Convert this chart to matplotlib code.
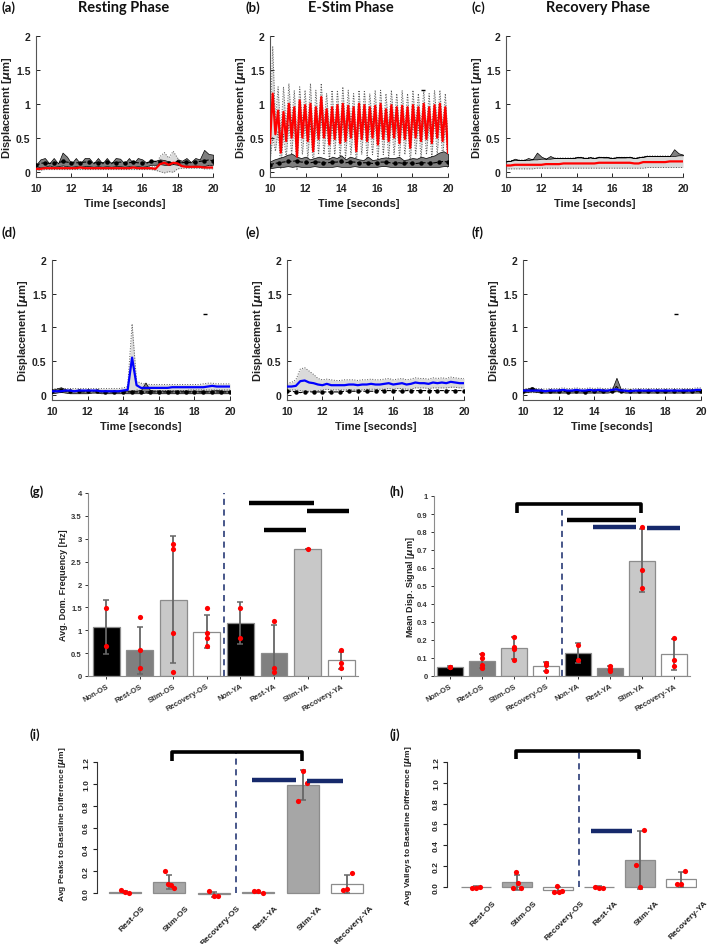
import matplotlib.pyplot as plt
import matplotlib.transforms as mtransforms
import numpy as np

W, H = 709, 945

# ---------------- time series data (sampled every 0.25 s, 10-20 s) ----------------
a_red = [0.04, 0.04, 0.05, 0.05, 0.05, 0.05, 0.05, 0.05, 0.05, 0.05, 0.06, 0.05, 0.05, 0.05, 0.05, 0.05,
         0.05, 0.05, 0.05, 0.05, 0.05, 0.05, 0.06, 0.05, 0.05, 0.05, 0.05, 0.04, 0.11, 0.13, 0.10, 0.13,
         0.12, 0.08, 0.07, 0.07, 0.07, 0.07, 0.06, 0.06, 0.06]
a_red_up = [0.07, 0.07, 0.07, 0.07, 0.07, 0.07, 0.07, 0.07, 0.07, 0.07, 0.08, 0.07, 0.07, 0.07, 0.07, 0.07,
            0.07, 0.07, 0.07, 0.07, 0.07, 0.07, 0.08, 0.07, 0.07, 0.07, 0.07, 0.07, 0.22, 0.28, 0.20, 0.30,
            0.20, 0.12, 0.10, 0.10, 0.10, 0.10, 0.09, 0.09, 0.09]
a_red_lo = [0.02, 0.02, 0.03, 0.03, 0.03, 0.03, 0.03, 0.03, 0.03, 0.03, 0.03, 0.03, 0.03, 0.03, 0.03, 0.03,
            0.03, 0.03, 0.03, 0.03, 0.03, 0.03, 0.03, 0.03, 0.03, 0.03, 0.03, 0.02, 0.00, -0.02, 0.00, -0.01,
            0.04, 0.05, 0.05, 0.05, 0.05, 0.05, 0.04, 0.04, 0.04]
a_blk = [0.09, 0.12, 0.13, 0.12, 0.13, 0.13, 0.15, 0.14, 0.13, 0.13, 0.13, 0.14, 0.14, 0.13, 0.13, 0.13,
         0.14, 0.13, 0.13, 0.14, 0.13, 0.13, 0.14, 0.13, 0.13, 0.13, 0.15, 0.15, 0.14, 0.12, 0.13, 0.13,
         0.14, 0.13, 0.14, 0.13, 0.14, 0.15, 0.16, 0.17, 0.16]
a_blk_up = [0.10, 0.18, 0.20, 0.12, 0.20, 0.12, 0.28, 0.22, 0.12, 0.20, 0.12, 0.20, 0.20, 0.12, 0.20, 0.12,
            0.20, 0.12, 0.20, 0.19, 0.12, 0.20, 0.12, 0.20, 0.18, 0.13, 0.16, 0.16, 0.18, 0.17, 0.15, 0.12,
            0.18, 0.16, 0.20, 0.14, 0.20, 0.18, 0.32, 0.26, 0.25]
a_blk_lo = [0.08, 0.06, 0.07, 0.09, 0.07, 0.08, 0.09, 0.08, 0.07, 0.08, 0.07, 0.08, 0.08, 0.07, 0.08, 0.07,
            0.08, 0.07, 0.08, 0.08, 0.07, 0.08, 0.07, 0.08, 0.07, 0.08, 0.10, 0.10, 0.11, 0.10, 0.10, 0.11,
            0.10, 0.08, 0.09, 0.08, 0.09, 0.08, 0.08, 0.10, 0.10]

# E-stim red trace: alternating troughs / peaks
b_red = [0.42, 1.15, 0.55, 0.90, 0.28, 0.88, 0.45, 1.00, 0.50, 0.95,
         0.22, 1.05, 0.50, 0.98, 0.45, 1.00, 0.30, 0.95, 0.48, 1.10,
         0.50, 0.92, 0.40, 0.95, 0.48, 0.98, 0.42, 1.00, 0.45, 0.97,
         0.50, 0.95, 0.30, 1.00, 0.48, 0.98, 0.45, 0.95, 0.50, 0.97,
         0.40, 1.00, 0.48, 0.92, 0.45, 0.98, 0.50, 0.95, 0.42, 0.97,
         0.48, 0.95, 0.35, 0.98, 0.50, 0.95, 0.45, 1.00, 0.48, 0.95,
         0.42, 0.98, 0.50, 1.00, 0.45, 0.95, 0.28]
b_red_up = [0.6, 1.85, 0.75, 1.25, 0.55, 1.25, 0.65, 1.3, 0.7, 1.2,
            0.5, 1.25, 0.7, 1.2, 0.65, 1.3, 0.5, 1.2, 0.65, 1.3,
            0.7, 1.15, 0.6, 1.2, 0.65, 1.2, 0.6, 1.25, 0.65, 1.2,
            0.7, 1.15, 0.5, 1.2, 0.65, 1.2, 0.65, 1.15, 0.7, 1.2,
            0.6, 1.2, 0.65, 1.15, 0.65, 1.2, 0.7, 1.15, 0.6, 1.2,
            0.65, 1.15, 0.55, 1.2, 0.7, 1.15, 0.65, 1.2, 0.65, 1.15,
            0.6, 1.2, 0.7, 1.2, 0.65, 1.15, 0.5]
b_red_lo = [0.15, 0.5, 0.3, 0.6, 0.05, 0.55, 0.2, 0.7, 0.25, 0.7,
            0.02, 0.75, 0.25, 0.7, 0.2, 0.7, 0.08, 0.7, 0.25, 0.8,
            0.25, 0.7, 0.15, 0.7, 0.25, 0.75, 0.2, 0.75, 0.2, 0.7,
            0.25, 0.7, 0.1, 0.75, 0.25, 0.75, 0.2, 0.7, 0.25, 0.75,
            0.15, 0.75, 0.25, 0.7, 0.2, 0.75, 0.25, 0.7, 0.2, 0.75,
            0.25, 0.7, 0.12, 0.75, 0.25, 0.7, 0.2, 0.75, 0.25, 0.7,
            0.2, 0.75, 0.25, 0.75, 0.2, 0.7, 0.05]
b_blk = [0.10, 0.12, 0.13, 0.14, 0.15, 0.15, 0.16, 0.14, 0.14, 0.13, 0.14, 0.14, 0.13, 0.13, 0.14, 0.14,
         0.15, 0.13, 0.14, 0.14, 0.13, 0.13, 0.13, 0.12, 0.13, 0.14, 0.14, 0.13, 0.12, 0.13, 0.12, 0.13,
         0.12, 0.12, 0.13, 0.13, 0.12, 0.13, 0.14, 0.15, 0.14]
b_blk_up = [0.15, 0.18, 0.20, 0.22, 0.25, 0.26, 0.22, 0.20, 0.22, 0.18, 0.20, 0.22, 0.20, 0.18, 0.22, 0.20,
            0.24, 0.18, 0.22, 0.20, 0.18, 0.17, 0.22, 0.17, 0.18, 0.20, 0.21, 0.20, 0.20, 0.22, 0.17, 0.18,
            0.20, 0.19, 0.22, 0.20, 0.22, 0.24, 0.28, 0.30, 0.26]
b_blk_lo = [0.05, 0.06, 0.07, 0.07, 0.08, 0.07, 0.08, 0.07, 0.07, 0.07, 0.08, 0.07, 0.07, 0.07, 0.07, 0.08,
            0.07, 0.07, 0.07, 0.08, 0.07, 0.07, 0.07, 0.07, 0.07, 0.08, 0.08, 0.07, 0.07, 0.07, 0.07, 0.07,
            0.07, 0.07, 0.07, 0.07, 0.07, 0.07, 0.07, 0.08, 0.08]

c_red = [0.09, 0.09, 0.10, 0.10, 0.10, 0.10, 0.10, 0.10, 0.10, 0.11, 0.11, 0.11, 0.11, 0.12, 0.12, 0.12,
         0.12, 0.12, 0.12, 0.12, 0.12, 0.13, 0.13, 0.13, 0.13, 0.13, 0.13, 0.13, 0.13, 0.12, 0.12, 0.14,
         0.14, 0.14, 0.14, 0.14, 0.14, 0.15, 0.15, 0.15, 0.15]
c_red_up = [0.15, 0.16, 0.17, 0.17, 0.17, 0.17, 0.18, 0.18, 0.19, 0.19, 0.19, 0.20, 0.20, 0.20, 0.20, 0.20,
            0.21, 0.21, 0.20, 0.21, 0.20, 0.21, 0.21, 0.21, 0.20, 0.21, 0.21, 0.21, 0.21, 0.20, 0.21, 0.22,
            0.23, 0.23, 0.23, 0.23, 0.23, 0.23, 0.23, 0.24, 0.24]
c_red_lo = [0.04, 0.04, 0.04, 0.04, 0.04, 0.04, 0.04, 0.05, 0.05, 0.05, 0.05, 0.05, 0.05, 0.05, 0.05, 0.05,
            0.05, 0.05, 0.05, 0.05, 0.05, 0.05, 0.05, 0.05, 0.05, 0.05, 0.05, 0.05, 0.05, 0.05, 0.05, 0.05,
            0.06, 0.06, 0.06, 0.06, 0.06, 0.06, 0.06, 0.06, 0.06]
c_blk_up = [0.15, 0.16, 0.19, 0.17, 0.17, 0.20, 0.18, 0.28, 0.22, 0.19, 0.23, 0.20, 0.20, 0.20, 0.20, 0.20,
            0.21, 0.21, 0.20, 0.21, 0.20, 0.22, 0.21, 0.21, 0.20, 0.21, 0.21, 0.21, 0.22, 0.20, 0.21, 0.22,
            0.23, 0.23, 0.23, 0.23, 0.23, 0.23, 0.33, 0.27, 0.25]

d_blue = [0.05, 0.05, 0.05, 0.06, 0.06, 0.05, 0.06, 0.06, 0.06, 0.06, 0.06, 0.05, 0.05, 0.05, 0.05, 0.05,
          0.06, 0.07, 0.55, 0.14, 0.10, 0.10, 0.10, 0.10, 0.10, 0.10, 0.10, 0.11, 0.11, 0.11, 0.11, 0.11,
          0.11, 0.11, 0.11, 0.12, 0.13, 0.12, 0.12, 0.12, 0.12]
d_blue_up = [0.08, 0.09, 0.09, 0.09, 0.09, 0.09, 0.09, 0.09, 0.09, 0.09, 0.09, 0.09, 0.09, 0.09, 0.09, 0.09,
             0.10, 0.12, 1.05, 0.20, 0.17, 0.16, 0.15, 0.15, 0.15, 0.15, 0.15, 0.15, 0.15, 0.15, 0.15, 0.15,
             0.15, 0.15, 0.16, 0.17, 0.17, 0.16, 0.16, 0.16, 0.16]
d_blue_lo = [0.03, 0.03, 0.03, 0.03, 0.03, 0.03, 0.03, 0.03, 0.03, 0.03, 0.03, 0.03, 0.03, 0.03, 0.03, 0.03,
             0.03, 0.03, 0.05, 0.07, 0.06, 0.06, 0.06, 0.06, 0.06, 0.06, 0.06, 0.06, 0.06, 0.06, 0.06, 0.07,
             0.07, 0.07, 0.07, 0.07, 0.07, 0.07, 0.07, 0.07, 0.07]
d_blk = [0.05, 0.06, 0.07, 0.05, 0.05, 0.05, 0.05, 0.04, 0.05, 0.05, 0.06, 0.04, 0.04, 0.04, 0.04, 0.04,
         0.04, 0.04, 0.04, 0.04, 0.04, 0.04, 0.04, 0.04, 0.04, 0.04, 0.04, 0.04, 0.04, 0.04, 0.04, 0.04,
         0.04, 0.04, 0.04, 0.04, 0.04, 0.04, 0.04, 0.04, 0.04]
d_blk_up = [0.07, 0.09, 0.11, 0.08, 0.06, 0.06, 0.06, 0.06, 0.07, 0.07, 0.07, 0.06, 0.06, 0.06, 0.06, 0.06,
            0.06, 0.06, 0.06, 0.06, 0.07, 0.18, 0.07, 0.06, 0.06, 0.06, 0.06, 0.06, 0.06, 0.06, 0.06, 0.06,
            0.06, 0.06, 0.06, 0.06, 0.06, 0.07, 0.06, 0.06, 0.06]
d_blk_lo = [0.02, 0.03, 0.04, 0.03, 0.02, 0.02, 0.02, 0.02, 0.02, 0.03, 0.03, 0.02, 0.02, 0.02, 0.02, 0.02,
            0.02, 0.02, 0.02, 0.02, 0.02, 0.03, 0.02, 0.02, 0.02, 0.02, 0.02, 0.02, 0.02, 0.02, 0.02, 0.02,
            0.02, 0.02, 0.02, 0.02, 0.02, 0.02, 0.02, 0.02, 0.02]

e_blue = [0.12, 0.12, 0.13, 0.20, 0.21, 0.18, 0.17, 0.15, 0.14, 0.16, 0.14, 0.14, 0.14, 0.14, 0.15, 0.15,
          0.14, 0.15, 0.15, 0.16, 0.15, 0.15, 0.16, 0.17, 0.15, 0.16, 0.17, 0.15, 0.16, 0.18, 0.17, 0.17,
          0.16, 0.18, 0.17, 0.18, 0.17, 0.19, 0.18, 0.17, 0.17]
e_blue_up = [0.17, 0.18, 0.22, 0.38, 0.40, 0.35, 0.30, 0.24, 0.22, 0.23, 0.22, 0.21, 0.21, 0.22, 0.22, 0.22,
             0.21, 0.22, 0.22, 0.23, 0.22, 0.22, 0.23, 0.24, 0.22, 0.23, 0.24, 0.22, 0.23, 0.25, 0.24, 0.24,
             0.23, 0.25, 0.24, 0.25, 0.24, 0.26, 0.25, 0.24, 0.24]
e_blue_lo = [0.07, 0.07, 0.07, 0.06, 0.05, 0.05, 0.05, 0.06, 0.07, 0.08, 0.07, 0.07, 0.07, 0.07, 0.07, 0.07,
             0.07, 0.07, 0.08, 0.08, 0.08, 0.08, 0.08, 0.09, 0.08, 0.09, 0.09, 0.08, 0.08, 0.10, 0.10, 0.10,
             0.09, 0.10, 0.10, 0.10, 0.10, 0.11, 0.11, 0.10, 0.10]
e_blk = [0.05, 0.05, 0.04, 0.03, 0.04, 0.04, 0.04, 0.04, 0.04, 0.04, 0.04, 0.04, 0.04, 0.05, 0.05, 0.05,
         0.05, 0.05, 0.05, 0.05, 0.05, 0.06, 0.06, 0.06, 0.06, 0.06, 0.05, 0.06, 0.06, 0.06, 0.06, 0.06,
         0.06, 0.06, 0.06, 0.06, 0.06, 0.06, 0.06, 0.06, 0.06]

f_blue = [0.06, 0.06, 0.06, 0.06, 0.06, 0.05, 0.06, 0.06, 0.06, 0.07, 0.06, 0.06, 0.07, 0.06, 0.06, 0.07,
          0.06, 0.07, 0.06, 0.06, 0.07, 0.08, 0.06, 0.06, 0.05, 0.06, 0.06, 0.06, 0.06, 0.06, 0.06, 0.06,
          0.06, 0.06, 0.06, 0.06, 0.06, 0.06, 0.06, 0.07, 0.07]
f_blue_up = [0.09, 0.09, 0.10, 0.09, 0.09, 0.08, 0.09, 0.09, 0.09, 0.10, 0.09, 0.09, 0.10, 0.09, 0.09, 0.10,
             0.09, 0.10, 0.09, 0.09, 0.10, 0.11, 0.09, 0.09, 0.08, 0.09, 0.09, 0.09, 0.09, 0.09, 0.09, 0.09,
             0.09, 0.09, 0.09, 0.09, 0.09, 0.09, 0.09, 0.10, 0.10]
f_blue_lo = [0.03, 0.03, 0.03, 0.03, 0.03, 0.03, 0.03, 0.03, 0.03, 0.04, 0.03, 0.03, 0.04, 0.03, 0.03, 0.04,
             0.03, 0.04, 0.03, 0.03, 0.04, 0.04, 0.03, 0.03, 0.03, 0.03, 0.03, 0.03, 0.03, 0.03, 0.03, 0.03,
             0.03, 0.03, 0.03, 0.03, 0.03, 0.03, 0.03, 0.04, 0.04]
f_blk = [0.05, 0.06, 0.08, 0.06, 0.05, 0.05, 0.05, 0.04, 0.05, 0.05, 0.04, 0.05, 0.05, 0.05, 0.04, 0.05,
         0.05, 0.05, 0.05, 0.05, 0.06, 0.12, 0.06, 0.05, 0.05, 0.05, 0.05, 0.05, 0.05, 0.05, 0.05, 0.05,
         0.05, 0.05, 0.05, 0.05, 0.05, 0.05, 0.05, 0.05, 0.05]
f_blk_up = [0.07, 0.09, 0.11, 0.08, 0.07, 0.07, 0.07, 0.06, 0.07, 0.07, 0.06, 0.07, 0.07, 0.07, 0.06, 0.07,
            0.07, 0.07, 0.07, 0.07, 0.08, 0.25, 0.08, 0.07, 0.07, 0.07, 0.07, 0.07, 0.07, 0.07, 0.07, 0.07,
            0.07, 0.07, 0.07, 0.07, 0.07, 0.08, 0.07, 0.07, 0.07]
f_blk_lo = [0.03, 0.04, 0.05, 0.04, 0.03, 0.03, 0.03, 0.03, 0.03, 0.03, 0.03, 0.03, 0.03, 0.03, 0.03, 0.03,
            0.03, 0.03, 0.03, 0.03, 0.04, 0.06, 0.04, 0.03, 0.03, 0.03, 0.03, 0.03, 0.03, 0.03, 0.03, 0.03,
            0.03, 0.03, 0.03, 0.03, 0.03, 0.03, 0.03, 0.03, 0.03]

# ---------------- bar chart data ----------------
labels8 = ['Non-OS', 'Rest-OS', 'Stim-OS', 'Recovery-OS', 'Non-YA', 'Rest-YA', 'Stim-YA', 'Recovery-YA']
labels6 = ['Rest-OS', 'Stim-OS', 'Recovery-OS', 'Rest-YA', 'Stim-YA', 'Recovery-YA']

g_mean = [1.07, 0.56, 1.67, 0.97, 1.16, 0.50, 2.78, 0.34]
g_sd = [0.59, 0.52, 1.38, 0.36, 0.46, 0.61, 0.0, 0.18]
g_pts = [[1.49, 0.65], [1.30, 0.56, 0.18], [2.88, 2.78, 0.93, 0.09], [1.49, 0.93, 0.84, 0.65],
         [1.49, 0.84], [1.21, 0.18, 0.09], [2.78], [0.56, 0.28, 0.18]]

h_mean = [0.050, 0.083, 0.155, 0.055, 0.128, 0.045, 0.640, 0.120]
h_sd = [0.004, 0.037, 0.060, 0.025, 0.058, 0.012, 0.175, 0.087]
h_pts = [[0.05, 0.048], [0.12, 0.10, 0.06, 0.045], [0.215, 0.16, 0.15, 0.09], [0.075, 0.06, 0.03],
         [0.17, 0.09], [0.055, 0.04, 0.03], [0.83, 0.59, 0.49], [0.21, 0.09, 0.055]]

i_mean = [0.010, 0.102, -0.012, 0.010, 0.990, 0.083]
i_sd = [0.010, 0.068, 0.020, 0.008, 0.140, 0.085]
i_pts = [[0.03, 0.01, 0.005], [0.20, 0.08, 0.075, 0.045], [0.015, -0.03, -0.03],
         [0.02, 0.015, 0.005], [0.84, 1.12, 1.01], [0.03, 0.035, 0.18]]

j_mean = [0.000, 0.045, -0.030, 0.000, 0.260, 0.072]
j_sd = [0.003, 0.072, 0.030, 0.003, 0.280, 0.072]
j_pts = [[-0.01, -0.01, 0.0], [-0.01, 0.14, 0.04, -0.01], [-0.05, 0.01, -0.05, -0.04],
         [0.0, -0.01, -0.01], [0.21, 0.0, 0.55], [0.03, 0.03, 0.155]]

# significance marks (start, end, height)
g_sig = [(5.26, 7.19, 3.78), (6.98, 8.23, 3.60), (5.70, 6.95, 3.20)]
h_bracket = (3.09, 6.97, 0.955, 0.905)
h_sig_black = [(4.66, 6.81, 0.865)]
h_sig_blue = [(5.47, 6.81, 0.83), (7.16, 8.19, 0.82)]
i_bracket = (2.06, 4.99, 1.29, 1.21)
i_sig_blue = [(3.86, 4.85, 1.035), (5.10, 5.91, 1.025)]
j_bracket = (1.98, 4.98, 1.31, 1.23)
j_sig_blue = [(3.80, 4.80, 0.54)]

plt.rcParams['font.family'] = ['Liberation Sans', 'DejaVu Sans']
plt.rcParams['font.weight'] = 'bold'

NAVY = '#16296b'
fig = plt.figure(figsize=(W / 100, H / 100), dpi=100)


def px_axes(l, t, r, b):
    return fig.add_axes([l / W, 1 - b / H, (r - l) / W, (b - t) / H])


def ftxt(x, y, s, **kw):
    fig.text(x / W, 1 - y / H, s, **kw)


def ts_panel(ax, line, up, lo, color, blk=None, blk_up=None, blk_lo=None, bump=True):
    t = np.linspace(10, 20, len(line))
    ax.fill_between(t, lo, up, color='#dadada', lw=0, zorder=1)
    ax.plot(t, up, ls=':', color='#555555', lw=0.7, zorder=2)
    ax.plot(t, lo, ls=':', color='#555555', lw=0.7, zorder=2)
    if blk_up is not None:
        tb = np.linspace(10, 20, len(blk_up))
        ax.fill_between(tb, blk_lo, blk_up, color='#7f7f7f', edgecolor='black', lw=0.5, zorder=3)
    if blk is not None:
        tb = np.linspace(10, 20, len(blk))
        ax.plot(tb, blk, ls='--', color='black', lw=0.8, marker='o', ms=2.2, markevery=2, zorder=4)
    ax.plot(t, line, color=color, lw=1.6, zorder=5)
    if bump:
        ax.plot([18.6], [1.2], marker='_', color='black', ms=3, mew=1)
    ax.set_xlim(10, 20)
    ax.set_ylim(-0.08, 2)
    ax.set_xticks([10, 12, 14, 16, 18, 20])
    ax.set_yticks([0, 0.5, 1, 1.5, 2])
    ax.set_yticklabels(['0', '0.5', '1', '1.5', '2'])
    for s in ['top', 'right']:
        ax.spines[s].set_visible(False)
    for s in ['left', 'bottom']:
        ax.spines[s].set_color('#555555')
        ax.spines[s].set_linewidth(0.8)
    ax.tick_params(direction='in', length=3, width=0.7, labelsize=7.5, colors='#222222', pad=4)
    ax.set_ylabel(r'Displacement [$\mu$m]', fontsize=8, fontweight='bold', color='#222222')
    ax.yaxis.set_label_coords(-0.125, 0.5)
    ax.set_xlabel('Time [seconds]', fontsize=8, fontweight='bold', color='#222222')
    ax.xaxis.set_label_coords(0.5, -0.15)


# ---- top row (OS, red) ----
ax_a = px_axes(36, 37, 213, 178)
ts_panel(ax_a, a_red, a_red_up, a_red_lo, '#ff0000', a_blk, a_blk_up, a_blk_lo, bump=False)
ax_b = px_axes(270, 37, 448, 178)
ts_panel(ax_b, b_red, b_red_up, b_red_lo, '#ff0000', b_blk, b_blk_up, b_blk_lo)
ax_c = px_axes(506, 37, 683, 178)
ts_panel(ax_c, c_red, c_red_up, c_red_lo, '#ff0000', None, c_blk_up, c_red_up, bump=False)

# ---- middle row (YA, blue) ----
ax_d = px_axes(52, 261, 230, 401)
ts_panel(ax_d, d_blue, d_blue_up, d_blue_lo, '#0000ff', d_blk, d_blk_up, d_blk_lo)
ax_e = px_axes(287, 261, 464, 401)
ts_panel(ax_e, e_blue, e_blue_up, e_blue_lo, '#0000ff', e_blk, bump=False)
ax_f = px_axes(523, 261, 701, 401)
ts_panel(ax_f, f_blue, f_blue_up, f_blue_lo, '#0000ff', f_blk, f_blk_up, f_blk_lo)

title_kw = dict(family='Lato', fontweight='bold', fontsize=10.5, ha='center', va='center', color='#111111')
ftxt(124, 8, 'Resting Phase', **title_kw)
ftxt(351, 8, 'E-Stim Phase', **title_kw)
ftxt(598, 8, 'Recovery Phase', **title_kw)
lab_kw = dict(family='Lato', fontweight='bold', fontsize=9.5, ha='left', va='center', color='#111111')
ftxt(1, 8, '(a)', **lab_kw)
ftxt(246, 8, '(b)', **lab_kw)
ftxt(471, 8, '(c)', **lab_kw)
ftxt(1, 233, '(d)', **lab_kw)
ftxt(246, 233, '(e)', **lab_kw)
ftxt(471, 233, '(f)', **lab_kw)
ftxt(30, 492, '(g)', **lab_kw)
ftxt(390, 492, '(h)', **lab_kw)
ftxt(30, 735, '(i)', **lab_kw)
ftxt(390, 735, '(j)', **lab_kw)


def bar_panel(ax, labels, mean, sd, pts, colors, width, jitter):
    x = np.arange(1, len(mean) + 1)
    ax.bar(x, mean, width, color=colors, edgecolor='#8c8c8c', lw=0.9, zorder=2)
    ax.errorbar(x, mean, yerr=sd, fmt='none', ecolor='#666666', elinewidth=1.3,
                capsize=2.5, capthick=1.1, zorder=3)
    for xi, p in zip(x, pts):
        off = np.linspace(-jitter, jitter, len(p)) if len(p) > 1 else np.zeros(1)
        ax.scatter(xi + off, p, s=14, color='#ff0000', zorder=4, clip_on=False, lw=0)
    for s in ['top', 'right']:
        ax.spines[s].set_visible(False)
    ax.set_xticks(x)
    return x


def sig(ax, spans, color, lw=3.2):
    for x0, x1, y in spans:
        ax.plot([x0, x1], [y, y], color=color, lw=lw, solid_capstyle='butt', clip_on=False, zorder=5)


def bracket(ax, spec):
    x0, x1, top, leg = spec
    ax.plot([x0, x0, x1, x1], [leg, top, top, leg], color='black', lw=2.6,
            solid_joinstyle='round', solid_capstyle='butt', clip_on=False, zorder=5)


cols8 = ['#000000', '#808080', '#c8c8c8', '#ffffff'] * 2
cols6 = ['#595959', '#a6a6a6', '#ffffff'] * 2

# ---- (g) ----
ax_g = px_axes(88, 494, 358, 677)
bar_panel(ax_g, labels8, g_mean, g_sd, g_pts, cols8, 0.8, 0.0)
ax_g.set_xlim(0.46, 8.5)
ax_g.set_ylim(0, 4)
ax_g.set_yticks(np.arange(0, 4.01, 0.5))
ax_g.set_yticklabels(['0', '0.5', '1', '1.5', '2', '2.5', '3', '3.5', '4'])
ax_g.set_xticklabels(labels8, rotation=30, ha='right', rotation_mode='anchor')
ax_g.plot([4.5, 4.5], [0, 4], color=NAVY, ls=(0, (4, 3)), lw=1.1, zorder=1)
sig(ax_g, g_sig, 'black')
ax_g.set_ylabel('Avg. Dom. Frequency [Hz]', fontsize=6.5, fontweight='bold', color='#222222')
ax_g.yaxis.set_label_coords(-0.075, 0.5)

# ---- (h) ----
ax_h = px_axes(434, 497, 690, 677)
bar_panel(ax_h, labels8, h_mean, h_sd, h_pts, cols8, 0.8, 0.0)
ax_h.set_xlim(0.5, 8.5)
ax_h.set_ylim(0, 1)
ax_h.set_yticks(np.arange(0, 1.01, 0.1))
ax_h.set_yticklabels(['0', '0.1', '0.2', '0.3', '0.4', '0.5', '0.6', '0.7', '0.8', '0.9', '1'])
ax_h.set_xticklabels(labels8, rotation=30, ha='right', rotation_mode='anchor')
ax_h.plot([4.5, 4.5], [0, 0.92], color=NAVY, ls=(0, (4, 3)), lw=1.1, zorder=1)
bracket(ax_h, h_bracket)
sig(ax_h, h_sig_black, 'black')
sig(ax_h, h_sig_blue, NAVY)
ax_h.set_ylabel(r'Mean Disp. Signal [$\mu$m]', fontsize=6.5, fontweight='bold', color='#222222')
ax_h.yaxis.set_label_coords(-0.065, 0.5)

for ax in (ax_g, ax_h):
    for s in ['left', 'bottom']:
        ax.spines[s].set_color('#8c8c8c')
        ax.spines[s].set_linewidth(0.8)
    ax.tick_params(axis='both', direction='out', length=2.5, width=0.7, labelsize=5.5,
                   colors='#333333', pad=2)

# ---- (i) ----
ax_i = px_axes(97, 763, 365, 899)
bar_panel(ax_i, labels6, i_mean, i_sd, i_pts, cols6, 0.72, 0.1)
ax_i.set_xlim(0.37, 6.4)
ax_i.set_ylim(-0.045, 1.2)
ax_i.plot([3.5, 3.5], [0, 1.28], color=NAVY, ls=(0, (4, 3)), lw=1.1, zorder=1, clip_on=False)
bracket(ax_i, i_bracket)
sig(ax_i, i_sig_blue, NAVY)
ax_i.set_ylabel(r'Avg Peaks to Baseline Difference [$\mu$m]', fontsize=6, fontweight='bold',
                color='#222222')
ax_i.yaxis.set_label_coords(-0.11, 0.55)

# ---- (j) ----
ax_j = px_axes(447, 763, 697, 894)
bar_panel(ax_j, labels6, j_mean, j_sd, j_pts, cols6, 0.72, 0.1)
ax_j.set_xlim(0.29, 6.39)
ax_j.set_ylim(-0.06, 1.2)
ax_j.plot([3.5, 3.5], [0, 1.3], color=NAVY, ls=(0, (4, 3)), lw=1.1, zorder=1, clip_on=False)
bracket(ax_j, j_bracket)
sig(ax_j, j_sig_blue, NAVY)
ax_j.set_ylabel(r'Avg Valleys to Baseline Difference [$\mu$m]', fontsize=6, fontweight='bold',
                color='#222222')
ax_j.yaxis.set_label_coords(-0.13, 0.52)

shift = mtransforms.ScaledTranslation(7 / 100, 0, fig.dpi_scale_trans)
for ax, labs in ((ax_i, labels6), (ax_j, labels6)):
    ax.spines['bottom'].set_visible(False)
    ax.spines['left'].set_bounds(0, 1.2)
    ax.spines['left'].set_color('#333333')
    ax.set_yticks(np.arange(0, 1.21, 0.2))
    ax.set_yticklabels(['0.0', '0.2', '0.4', '0.6', '0.8', '1.0', '1.2'], rotation=90, va='center')
    ax.set_xticklabels(labs, rotation=45, ha='center')
    ax.tick_params(axis='y', direction='out', length=3, width=0.8, labelsize=6, colors='#222222', pad=2)
    ax.tick_params(axis='x', length=0, labelsize=6, colors='#222222', pad=4)
    for lab in ax.get_xticklabels():
        lab.set_transform(lab.get_transform() + shift)

fig.savefig('out.png', dpi=100)
